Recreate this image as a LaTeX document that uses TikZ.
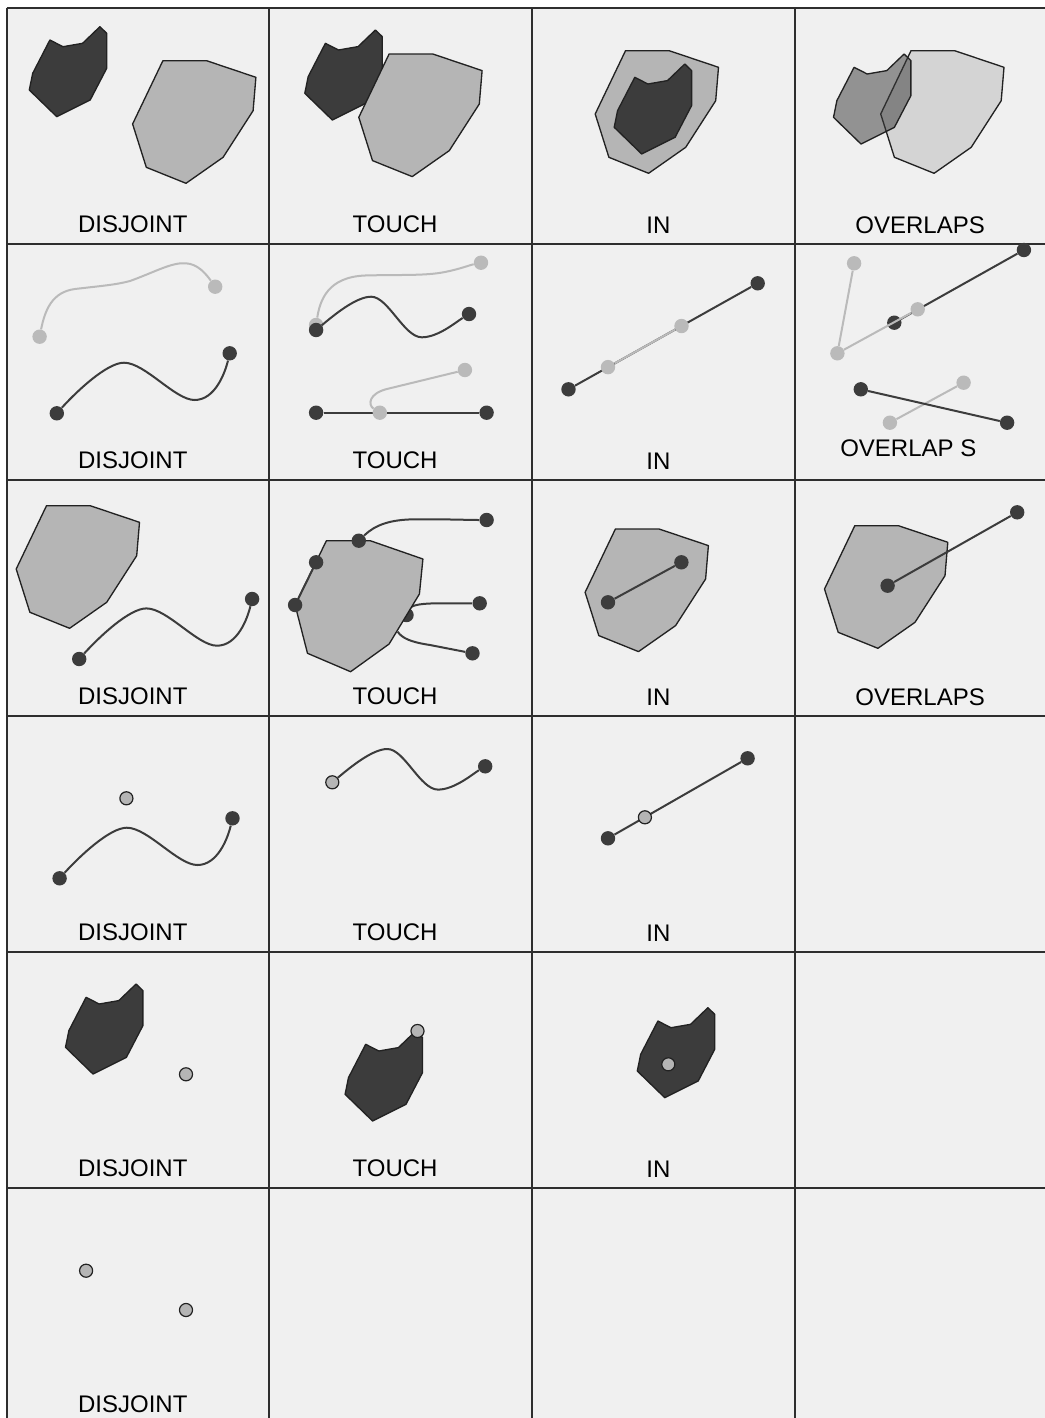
\documentclass[tikz,border=0pt]{standalone}
\usepackage{fontspec}
\setmainfont{Liberation Sans}
\pgfdeclarelayer{bg}
\pgfdeclarelayer{lo}
\pgfsetlayers{bg,lo,main}
\definecolor{cellbg}{HTML}{F0F0F0}
\definecolor{gridc}{HTML}{2E2E2E}
\definecolor{dk}{HTML}{3C3C3C}
\definecolor{edgec}{HTML}{222222}
\definecolor{lt}{HTML}{B5B5B5}
\definecolor{ltl}{HTML}{BABABA}
\definecolor{ovB}{HTML}{D4D4D4}
\newcommand{\shapeAA}{(0,0) -- (13.1,6.7) -- (32.7,3.3) -- (50,-13.3) -- (56.8,-6.7) -- (56.8,28.3) -- (40.3,60) -- (6.9,76.7) -- (-20.6,50) -- (-17.2,33.3) -- cycle}
\newcommand{\shapeBB}{(0,0) -- (43.7,0) -- (93,16.6) -- (90.2,50) -- (60.2,96.6) -- (23.1,122.6) -- (-16.6,106.6) -- (-30.3,63.3) -- cycle}
\newcommand{\waveC}[2]{\draw[dkline] (#1) .. controls (20.2,-22.3) and (50.2,-50.6) .. (67.2,-50.6) .. controls (88.2,-50.6) and (118.2,-13.3) .. (137.8,-13.3) .. controls (158.2,-13.3) and (168.2,-40.3) .. (#2);}
\newcommand{\waveD}[2]{\draw[dkline] (#1) .. controls (18,-15) and (40,-33.3) .. (55.1,-33.3) .. controls (72,-33.3) and (88,7.3) .. (105.7,7.3) .. controls (122,7.3) and (140,-8) .. (#2);}
\tikzset{
  polyA/.style={fill=dk, draw=edgec, line width=1pt, line join=round},
  polyB/.style={fill=lt, draw=edgec, line width=1pt, line join=round},
  dkline/.style={draw=dk, line width=1.5pt},
  ltline/.style={draw=ltl, line width=1.5pt},
  dkdot/.style={circle, fill=dk, inner sep=0pt, minimum size=10.8pt},
  ltdot/.style={circle, fill=ltl, inner sep=0pt, minimum size=10.8pt},
  gpt/.style={circle, fill=lt, draw=edgec, line width=0.9pt, inner sep=0pt, minimum size=9.8pt},
  lbl/.style={anchor=base, font=\fontsize{18}{20}\selectfont, inner sep=0pt}
}
\begin{document}
\begin{tikzpicture}[x=0.75pt,y=-0.75pt]
\useasboundingbox (0,0) rectangle (1045,1418);
\begin{pgfonlayer}{bg}
\fill[white] (0,0) rectangle (1045,1418);
\fill[cellbg] (6.5,7.5) rectangle (1045,1418);
\draw[gridc, line width=1.5pt]
  (6.5,7.5) -- (6.5,1418) (269,7.5) -- (269,1418) (532,7.5) -- (532,1418) (795,7.5) -- (795,1418)
  (6.5,7.5) -- (1045,7.5) (6.5,243.5) -- (1045,243.5) (6.5,479.5) -- (1045,479.5)
  (6.5,715.5) -- (1045,715.5) (6.5,951.5) -- (1045,951.5) (6.5,1187.5) -- (1045,1187.5);
\end{pgfonlayer}

% ---------- row 0 : region / region ----------
\draw[polyA, shift={(49.9,40)}] \shapeAA;
\draw[polyB, shift={(162.9,60.7)}] \shapeBB;
\node[lbl] (l00) at (132.8,232.3) {DISJOINT};

\draw[polyA, shift={(325.4,43.3)}] \shapeAA;
\draw[polyB, shift={(389.1,54)}] \shapeBB;
\node[lbl] (l10) at (395.1,232.3) {TOUCH};

\draw[polyB, shift={(625.5,50.7)}] \shapeBB;
\draw[polyA, shift={(634.8,77.3)}] \shapeAA;
\node[lbl] (l20) at (658.4,233.5) {IN};

\draw[fill=ovB, draw=edgec, line width=1pt, line join=round, shift={(911,50.7)}] \shapeBB;
\draw[fill=dk, fill opacity=0.52, draw=edgec, line width=1pt, line join=round, shift={(854.1,67.3)}] \shapeAA;
\node[lbl] (l30) at (920.1,233.5) {OVERLAPS};

% ---------- row 1 : line / line ----------
\node[ltdot] (d1a) at (39.6,336.7) {};
\node[ltdot] (d1b) at (215.2,286.7) {};
\draw[ltline] (d1a) .. controls (45,310) and (52,292) .. (75,289) .. controls (100,286) and (115,285) .. (130,281) .. controls (155,272) and (172,262) .. (186,263.3) .. controls (198,264) and (206,274) .. (d1b);
\begin{scope}[shift={(56.8,413.3)}]
\node[dkdot] (d1c) at (0,0) {};
\node[dkdot] (d1d) at (172.9,-60) {};
\waveC{d1c}{d1d}
\end{scope}
\node[lbl] (l01) at (132.8,468.3) {DISJOINT};

\node[ltdot] (t1a) at (316.1,325) {};
\node[ltdot] (t1b) at (481,262.7) {};
\draw[ltline] (t1a) .. controls (320,300) and (328,277) .. (365,275.5) .. controls (400,274.5) and (425,276) .. (445,272) .. controls (460,269) and (470,265) .. (t1b);
\begin{scope}[shift={(316.1,330)}]
\node[dkdot] (t1c) at (0,0) {};
\node[dkdot] (t1d) at (152.9,-16) {};
\waveD{t1c}{t1d}
\end{scope}
\node[dkdot] (t1e) at (316.1,412.7) {};
\node[dkdot] (t1f) at (486.6,412.7) {};
\draw[dkline] (t1e) -- (t1f);
\node[ltdot] (t1g) at (379.8,412.7) {};
\node[ltdot] (t1h) at (464.9,370) {};
\draw[ltline] (t1g) .. controls (368,405) and (368,393) .. (389,388.5) -- (t1h);
\node[lbl] (l11) at (395.1,468.3) {TOUCH};

\node[dkdot] (i1a) at (568.5,389.3) {};
\node[dkdot] (i1b) at (757.7,283.3) {};
\draw[dkline] (i1a) -- (i1b);
\node[ltdot] (i1c) at (608,367.1) {};
\node[ltdot] (i1d) at (681.5,326) {};
\draw[ltline] (i1c) -- (i1d);
\node[lbl] (l21) at (658.4,469.5) {IN};

\node[dkdot] (o1a) at (894.3,322.7) {};
\node[dkdot] (o1b) at (1023.9,250) {};
\draw[dkline] (o1a) -- (o1b);
\node[ltdot] (o1c) at (854.1,263.3) {};
\node[ltdot] (o1d) at (837.4,353.3) {};
\node[ltdot] (o1e) at (917.7,309.3) {};
\draw[ltline] (o1c) -- (o1d) -- (o1e);
\node[ltdot] (o1h) at (889.9,422.7) {};
\node[ltdot] (o1i) at (963.6,382.7) {};
\draw[ltline] (o1h) -- (o1i);
\node[dkdot] (o1f) at (860.8,389.3) {};
\node[dkdot] (o1g) at (1007.1,422.7) {};
\draw[dkline] (o1f) -- (o1g);
\node[lbl] (l31) at (908.3,456.7) {OVERLAP S};

% ---------- row 2 : region / line ----------
\draw[polyB, shift={(46.5,505.7)}] \shapeBB;
\begin{scope}[shift={(79.2,659)}]
\node[dkdot] (d2a) at (0,0) {};
\node[dkdot] (d2b) at (172.9,-60) {};
\waveC{d2a}{d2b}
\end{scope}
\node[lbl] (l02) at (132.8,704.3) {DISJOINT};

\draw[polyB] (326.4,540.7) -- (370.2,540.7) -- (422.9,559) -- (419.4,594) -- (389.1,644) -- (350.6,671.7) -- (307.5,653.3) -- (295.1,605) -- cycle;
\node[dkdot] (t2a) at (358.8,540.7) {};
\node[dkdot] (t2b) at (486.6,520) {};
\node[dkdot] (t2c) at (316.1,562.3) {};
\node[dkdot] (t2d) at (295.1,605) {};
\node[dkdot] (t2f) at (479.7,603.3) {};
\node[dkdot] (t2g) at (472.5,653.3) {};
\coordinate (t2e) at (397.7,631.7);
\draw[dkline] (t2d) -- (t2c);
\begin{pgfonlayer}{lo}
\node[dkdot] (t2h) at (406.5,615) {};
\draw[dkline] (t2a) .. controls (375,525) and (390,519.5) .. (415,519.3) .. controls (440,519) and (470,520) .. (t2b);
\draw[dkline] (t2h) .. controls (411,606) and (418,603.5) .. (435,603.4) -- (t2f);
\draw[dkline] (t2e) .. controls (402,638) and (410,642) .. (430,645) -- (t2g);
\end{pgfonlayer}
\node[lbl] (l12) at (395.1,704.3) {TOUCH};

\draw[polyB, shift={(615.4,529)}] \shapeBB;
\node[dkdot] (i2a) at (608,602.3) {};
\node[dkdot] (i2b) at (681.4,562.3) {};
\draw[dkline] (i2a) -- (i2b);
\node[lbl] (l22) at (658.4,705.5) {IN};

\draw[polyB, shift={(854.8,525.7)}] \shapeBB;
\node[dkdot] (o2a) at (887.6,585.7) {};
\node[dkdot] (o2b) at (1017.2,512.3) {};
\draw[dkline] (o2a) -- (o2b);
\node[lbl] (l32) at (920.1,705.5) {OVERLAPS};

% ---------- row 3 : point / line ----------
\node[gpt] (d3p) at (126.4,798.3) {};
\begin{scope}[shift={(59.6,878.3)}]
\node[dkdot] (d3a) at (0,0) {};
\node[dkdot] (d3b) at (172.9,-60) {};
\waveC{d3a}{d3b}
\end{scope}
\node[lbl] (l03) at (132.8,940.3) {DISJOINT};

\begin{scope}[shift={(332.3,782.3)}]
\node[gpt] (t3a) at (0,0) {};
\node[dkdot] (t3b) at (152.9,-16) {};
\waveD{t3a}{t3b}
\end{scope}
\node[lbl] (l13) at (395.1,940.3) {TOUCH};

\node[dkdot] (i3a) at (608,838.3) {};
\node[dkdot] (i3b) at (747.6,758.3) {};
\draw[dkline] (i3a) -- (i3b);
\node[gpt] (i3p) at (644.9,817.3) {};
\node[lbl] (l23) at (658.4,941.5) {IN};

% ---------- row 4 : point / region ----------
\draw[polyA, shift={(86.1,997.3)}] \shapeAA;
\node[gpt] (d4p) at (186,1074.3) {};
\node[lbl] (l04) at (132.8,1176.3) {DISJOINT};

\draw[polyA, shift={(365.7,1044.3)}] \shapeAA;
\node[gpt] (t4p) at (417.5,1031) {};
\node[lbl] (l14) at (395.1,1176.3) {TOUCH};

\draw[polyA, shift={(657.9,1021)}] \shapeAA;
\node[gpt] (i4p) at (668.3,1064.3) {};
\node[lbl] (l24) at (658.4,1177.5) {IN};

% ---------- row 5 : point / point ----------
\node[gpt] (d5a) at (86.1,1270.7) {};
\node[gpt] (d5b) at (186,1310) {};
\node[lbl] (l05) at (132.8,1412.3) {DISJOINT};
\end{tikzpicture}
\end{document}
